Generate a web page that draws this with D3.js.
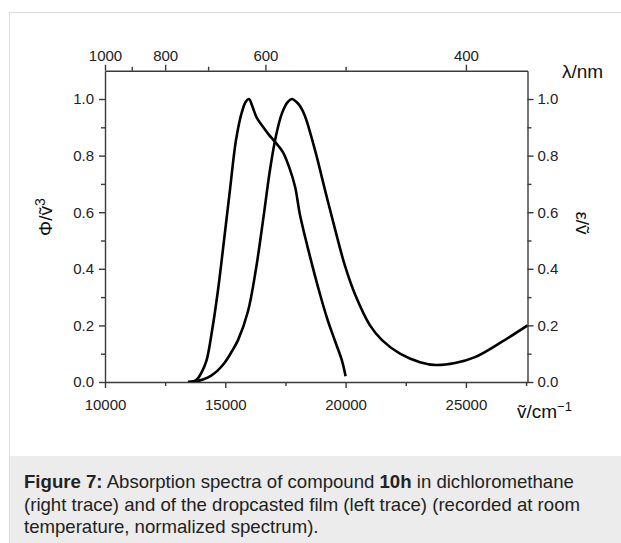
<!DOCTYPE html>
<html>
<head>
<meta charset="utf-8">
<script src="https://cdn.jsdelivr.net/npm/d3@7"></script>
<style>
  html, body { margin: 0; padding: 0; background: #fff; }
  svg { display: block; font-family: "Liberation Sans", Arial, sans-serif; }
</style>
</head>
<body>
<svg id="chart" width="621" height="543"></svg>
<script>
// ---- data (wavenumber in cm^-1, normalized intensity) ----
const filmNu  = [13450, 13700, 13870, 14050, 14227, 14447, 14697, 14946, 15195, 15445, 15694, 15850, 15985, 16120, 16300, 16580, 16800, 17000, 17200, 17410, 17650, 17900, 18105, 18500, 18936, 19250, 19560, 19840, 20000];
const filmVal = [0, 0.003, 0.014, 0.04, 0.078, 0.18, 0.325, 0.50, 0.68, 0.855, 0.955, 0.99, 1.0, 0.975, 0.935, 0.90, 0.875, 0.855, 0.835, 0.81, 0.76, 0.69, 0.59, 0.45, 0.31, 0.22, 0.145, 0.078, 0.02];

const solNu  = [13450, 13800, 14100, 14400, 14700, 14988, 15250, 15528, 15943, 16276, 16567, 16858, 17107, 17357, 17600, 17780, 17950, 18105, 18310, 18726, 19140, 19560, 19975, 20390, 21014, 21513, 22261, 23092, 23757, 24547, 25378, 26417, 27560];
const solVal = [0, 0.003, 0.01, 0.022, 0.042, 0.07, 0.105, 0.148, 0.25, 0.40, 0.57, 0.75, 0.87, 0.95, 0.99, 1.0, 0.99, 0.975, 0.94, 0.82, 0.68, 0.54, 0.41, 0.31, 0.20, 0.148, 0.10, 0.07, 0.06, 0.067, 0.088, 0.138, 0.20];

const nuTicks      = [10000, 15000, 20000, 25000];
const nuMinorTicks = [12500, 17500, 22500, 27500];
const lambdaTicks      = [1000, 800, 600, 400];
const lambdaMinorTicks = [900, 700, 500];
const yTicks      = [0, 0.2, 0.4, 0.6, 0.8, 1.0];
const yMinorTicks = [0.1, 0.3, 0.5, 0.7, 0.9];

const captionLines = [
  [{t: "Figure 7:", b: true}, {t: " Absorption spectra of compound "}, {t: "10h", b: true}, {t: " in dichloromethane"}],
  [{t: "(right trace) and of the dropcasted film (left trace) (recorded at room"}],
  [{t: "temperature, normalized spectrum)."}]
];

// ---- layout ----
const svg = d3.select("#chart");
const L = 105, R = 527.5, T = 70.7, B = 382;
const x = d3.scaleLinear().domain([10000, 27560]).range([L, R]);
const y = d3.scaleLinear().domain([0, 1.1]).range([B, T]);

// frame and caption background
svg.append("rect").attr("x", 9.5).attr("y", 12.5).attr("width", 640).attr("height", 560)
  .attr("fill", "#fff").attr("stroke", "#dcdcdc").attr("stroke-width", 1);
svg.append("rect").attr("x", 10).attr("y", 456).attr("width", 640).attr("height", 120)
  .attr("fill", "#ececec");

const axisColor = "#3a3a3a";
const tickFont = 15;

function styleAxis(g) {
  g.selectAll("path, line").attr("stroke", axisColor).attr("stroke-width", 1.4);
  g.selectAll("text").attr("fill", "#222").style("font-size", tickFont + "px")
    .style("font-family", '"Liberation Sans", Arial, sans-serif');
}

// bottom axis
const gB = svg.append("g").attr("transform", `translate(0,${B})`);
gB.call(d3.axisBottom(x).tickValues(nuTicks).tickFormat(d3.format("d")).tickSize(6).tickSizeOuter(0).tickPadding(11));
gB.append("g").call(d3.axisBottom(x).tickValues(nuMinorTicks).tickFormat("").tickSize(4).tickSizeOuter(0))
  .select(".domain").remove();
styleAxis(gB);

// top axis (wavelength)
const gT = svg.append("g").attr("transform", `translate(0,${T})`);
gT.call(d3.axisTop(x).tickValues(lambdaTicks.map(l => 1e7 / l)).tickFormat((d, i) => lambdaTicks[i]).tickSize(6).tickSizeOuter(0).tickPadding(4));
gT.append("g").call(d3.axisTop(x).tickValues(lambdaMinorTicks.map(l => 1e7 / l)).tickFormat("").tickSize(4).tickSizeOuter(0))
  .select(".domain").remove();
styleAxis(gT);

// left axis
const gL = svg.append("g").attr("transform", `translate(${L},0)`);
gL.call(d3.axisLeft(y).tickValues(yTicks).tickFormat(d3.format(".1f")).tickSize(6).tickSizeOuter(0).tickPadding(5));
gL.append("g").call(d3.axisLeft(y).tickValues(yMinorTicks).tickFormat("").tickSize(4).tickSizeOuter(0))
  .select(".domain").remove();
styleAxis(gL);

// right axis
const gR = svg.append("g").attr("transform", `translate(${R},0)`);
gR.call(d3.axisRight(y).tickValues(yTicks).tickFormat(d3.format(".1f")).tickSize(6).tickSizeOuter(0).tickPadding(4));
gR.append("g").call(d3.axisRight(y).tickValues(yMinorTicks).tickFormat("").tickSize(4).tickSizeOuter(0))
  .select(".domain").remove();
styleAxis(gR);

// curves
svg.append("clipPath").attr("id", "clip").append("rect")
  .attr("x", L).attr("y", T).attr("width", R - L).attr("height", B - T);
const line = d3.line().x(d => x(d[0])).y(d => y(d[1])).curve(d3.curveCatmullRom.alpha(0.5));
const plot = svg.append("g").attr("clip-path", "url(#clip)");
plot.append("path").datum(filmNu.map((n, i) => [n, filmVal[i]]))
  .attr("d", line).attr("fill", "none").attr("stroke", "#000").attr("stroke-width", 2.6);
plot.append("path").datum(solNu.map((n, i) => [n, solVal[i]]))
  .attr("d", line).attr("fill", "none").attr("stroke", "#000").attr("stroke-width", 2.6);

// axis titles
const titleFont = 19;
svg.append("text").attr("x", 562).attr("y", 78).attr("fill", "#111")
  .style("font-size", titleFont + "px").text("λ/nm");

const bt = svg.append("text").attr("x", 517).attr("y", 418).attr("fill", "#111").style("font-size", titleFont + "px");
bt.append("tspan").text("ṽ/cm");
bt.append("tspan").attr("dy", -7).style("font-size", "13px").text("−1");

const lt = svg.append("text").attr("transform", "translate(52,217) rotate(-90)").attr("text-anchor", "middle")
  .attr("fill", "#111").style("font-size", titleFont + "px");
lt.append("tspan").text("Φ/ṽ");
lt.append("tspan").attr("dy", -7).style("font-size", "14px").text("3");

svg.append("text").attr("transform", "translate(576,223) rotate(90)").attr("text-anchor", "middle")
  .attr("fill", "#111").style("font-size", titleFont + "px").text("ε/ṽ");

// caption
const capBase = [488, 510.5, 533];
captionLines.forEach((parts, i) => {
  const t = svg.append("text").attr("x", 24).attr("y", capBase[i]).attr("fill", "#222")
    .style("font-size", "18.6px");
  parts.forEach(p => t.append("tspan").attr("font-weight", p.b ? "bold" : "normal").text(p.t));
});
</script>
</body>
</html>
